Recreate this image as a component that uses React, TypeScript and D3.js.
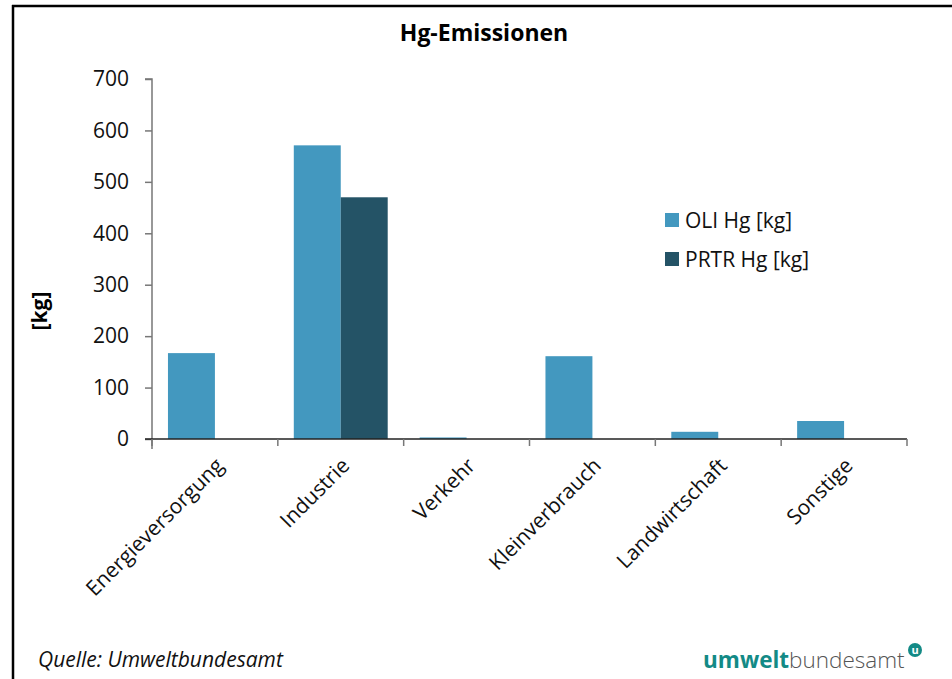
import { useEffect, useRef } from 'react';
import * as d3 from 'd3';

const categories = ['Energieversorgung', 'Industrie', 'Verkehr', 'Kleinverbrauch', 'Landwirtschaft', 'Sonstige'];
const seriesNames = ['OLI Hg [kg]', 'PRTR Hg [kg]'];
const oliValues = [167, 571, 3, 161, 14, 35];
const prtrValues = [0, 470, 0, 0, 0, 0];
const yTicks = [0, 100, 200, 300, 400, 500, 600, 700];
const colors = ['#4398bf', '#245366'];

const W = 952;
const H = 679;
const FONT = '"Open Sans", "Noto Sans", sans-serif';

const App = () => {
  const ref = useRef<SVGSVGElement>(null);

  useEffect(() => {
    if (!ref.current) return;
    const svg = d3.select(ref.current);
    svg.selectAll('*').remove();

    const left = 152, right = 907, top = 79, bottom = 439;

    // frame lines (left + top)
    svg.append('line').attr('x1', 13).attr('x2', 13).attr('y1', 5).attr('y2', H)
      .attr('stroke', '#000').attr('stroke-width', 2.5);
    svg.append('line').attr('x1', 12).attr('x2', W).attr('y1', 6).attr('y2', 6)
      .attr('stroke', '#000').attr('stroke-width', 2.5);

    svg.append('text').attr('x', 484).attr('y', 41).attr('text-anchor', 'middle')
      .style('font-family', FONT).style('font-size', '23px').style('font-weight', 700)
      .text('Hg-Emissionen');

    const x = d3.scaleBand<string>().domain(categories).range([left, right]).paddingInner(0).paddingOuter(0);
    const xInner = d3.scaleBand<string>().domain(seriesNames)
      .range([0, x.bandwidth()]).paddingInner(0).paddingOuter(0.34);
    const y = d3.scaleLinear().domain([0, 700]).range([bottom, top]);

    // y axis
    const yAxis = svg.append('g').attr('transform', `translate(${left},0)`)
      .call(d3.axisLeft(y).tickValues(yTicks).tickSize(7).tickPadding(16));
    yAxis.select('.domain').attr('stroke', '#777').attr('stroke-width', 1.5).attr('d', `M-7,${top}H0V${bottom + 10}`);
    yAxis.selectAll('.tick line').attr('stroke', '#777').attr('stroke-width', 1.5);
    yAxis.selectAll('.tick text').style('font-family', FONT).style('font-size', '21px').attr('fill', '#111');

    svg.append('text').attr('transform', 'translate(47,311) rotate(-90)').attr('text-anchor', 'middle')
      .style('font-family', FONT).style('font-size', '21px').style('font-weight', 700)
      .text('[kg]');

    // bars
    const data = categories.map((c, i) => ({ c, vals: [oliValues[i], prtrValues[i]] }));
    const groups = svg.append('g').selectAll('g').data(data).enter().append('g')
      .attr('transform', d => `translate(${x(d.c)},0)`);
    groups.selectAll('rect').data(d => d.vals.map((v, j) => ({ v, s: seriesNames[j], j })))
      .enter().append('rect')
      .attr('x', d => xInner(d.s)!)
      .attr('width', xInner.bandwidth())
      .attr('y', d => y(d.v))
      .attr('height', d => bottom - y(d.v))
      .attr('fill', d => colors[d.j]);

    // x axis
    const xAxis = svg.append('g').attr('transform', `translate(0,${bottom})`);
    xAxis.append('line').attr('x1', left - 7).attr('x2', right).attr('y1', 0).attr('y2', 0)
      .attr('stroke', '#222').attr('stroke-width', 1.5);
    const tickXs = categories.map(c => x(c)!).concat([right]);
    xAxis.selectAll('.xt').data(tickXs).enter().append('line')
      .attr('x1', d => d).attr('x2', d => d).attr('y1', 0).attr('y2', 7)
      .attr('stroke', '#777').attr('stroke-width', 1.5);
    xAxis.selectAll('.xl').data(categories).enter().append('text')
      .attr('transform', d => `translate(${x(d)! + x.bandwidth() / 2 + 10},${28}) rotate(-45)`)
      .attr('text-anchor', 'end')
      .style('font-family', FONT).style('font-size', '21px').attr('fill', '#111')
      .text(d => d);

    // legend
    const lg = svg.append('g').attr('transform', 'translate(665,213)');
    seriesNames.forEach((s, i) => {
      lg.append('rect').attr('x', 0).attr('y', i * 39).attr('width', 14).attr('height', 14).attr('fill', colors[i]);
      lg.append('text').attr('x', 20).attr('y', i * 39 + 15)
        .style('font-family', FONT).style('font-size', '21px').attr('fill', '#111').text(s);
    });

    // footer
    svg.append('text').attr('x', 38).attr('y', 667)
      .style('font-family', FONT).style('font-size', '21px').style('font-style', 'italic').attr('fill', '#111')
      .text('Quelle: Umweltbundesamt');

    const logo = svg.append('text').attr('x', 703).attr('y', 668)
      .style('font-family', FONT).style('font-size', '22.5px');
    logo.append('tspan').attr('fill', '#138a86').style('font-weight', 700).text('umwelt');
    logo.append('tspan').attr('fill', '#555').style('font-weight', 300).text('bundesamt');
    svg.append('circle').attr('cx', 915).attr('cy', 650).attr('r', 7).attr('fill', '#138a86');
    svg.append('text').attr('x', 915).attr('y', 654).attr('text-anchor', 'middle')
      .style('font-family', FONT).style('font-size', '11px').style('font-weight', 700).attr('fill', '#fff').text('u');
  }, []);

  return (
    <svg ref={ref} width={W} height={H}
      style={{ position: 'absolute', left: 0, top: 0, background: '#fff' }} />
  );
};

export default App;
